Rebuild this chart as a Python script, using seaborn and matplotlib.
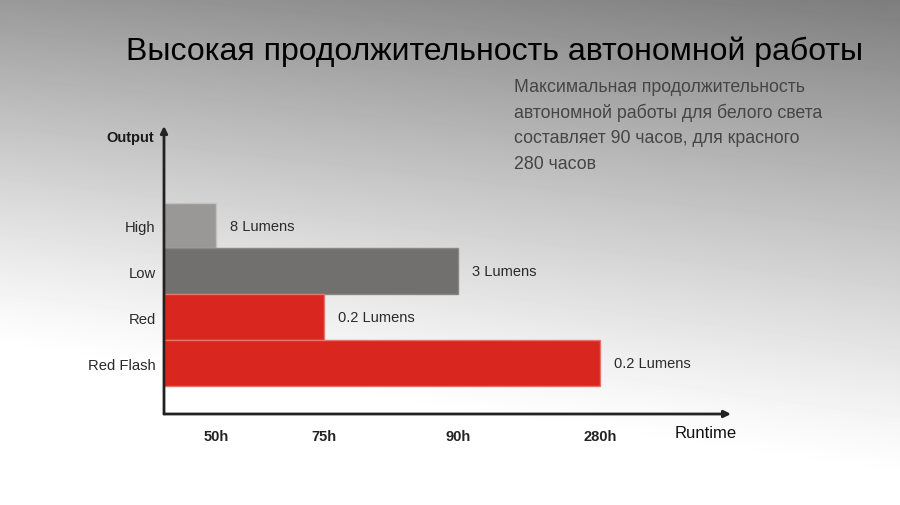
import numpy as np
import pandas as pd
import matplotlib
matplotlib.use("Agg")
import matplotlib.pyplot as plt
import seaborn as sns

# data
modes = ["High", "Low", "Red", "Red Flash"]
runtime_h = [50, 90, 75, 280]
lumens = ["8 Lumens", "3 Lumens", "0.2 Lumens", "0.2 Lumens"]
tick_hours = [50, 75, 90, 280]
tick_labels = ["50h", "75h", "90h", "280h"]
title = "Высокая продолжительность автономной работы"
desc_lines = [
    "Максимальная продолжительность",
    "автономной работы для белого света",
    "составляет 90 часов, для красного",
    "280 часов",
]

colors = {"High": "#9a9896", "Low": "#72706e", "Red": "#d9261e", "Red Flash": "#d9261e"}
edges = {"High": "#c4c2c0", "Low": "#8a8886", "Red": "#e8736c", "Red Flash": "#e8736c"}

# the runtime axis in the original is not linear: knots of the piecewise scale
scale_hours = [0, 50, 75, 90, 280, 400]
scale_pos = [0, 52, 160, 294, 436, 567]


def fwd(v):
    return np.interp(v, scale_hours, scale_pos)


def inv(p):
    return np.interp(p, scale_pos, scale_hours)


df = pd.DataFrame({"mode": modes, "hours": runtime_h})

sns.set_style("white")
plt.rcParams["font.family"] = ["Liberation Sans", "DejaVu Sans"]

W, H = 900, 506
fig = plt.figure(figsize=(9, 5.06), dpi=100)

# gradient background (grey top right, fading to white at the bottom)
bg = fig.add_axes([0, 0, 1, 1], zorder=0)
xx, yy = np.meshgrid(np.arange(W), np.arange(H))
g0 = 0.6 - 0.11 * xx / W
yw = 350 + 130 * xx / W
grad = 1 - (1 - g0) * np.clip(1 - yy / yw, 0, 1) ** 1.2
bg.imshow(grad, cmap="gray", vmin=0, vmax=1, aspect="auto", extent=(0, W, H, 0))
bg.set_axis_off()

ax = fig.add_axes([164 / W, 1 - 415 / H, (731 - 164) / W, (415 - 127) / H], zorder=1)
ax.patch.set_alpha(0)

sns.barplot(data=df, x="hours", y="mode", hue="mode", order=modes, hue_order=modes,
            palette=colors, orient="h", width=1.0, legend=False, ax=ax, errorbar=None,
            saturation=1)

ax.set_xscale("function", functions=(fwd, inv))
ax.set_xlim(0, 400)
ax.set_ylim(4.11, -2.17)

for bar, m in zip(ax.patches, modes):
    bar.set_edgecolor(edges[m])
    bar.set_linewidth(1.0)

for cont, lab in zip(ax.containers, lumens):
    ax.bar_label(cont, labels=[lab], padding=10, fontsize=10.5, color="#2a2a2a")

ax.set_xticks(tick_hours)
ax.set_xticklabels(tick_labels, fontsize=10.5, fontweight="bold", color="#222222")
ax.xaxis.set_minor_locator(matplotlib.ticker.NullLocator())
ax.tick_params(axis="x", direction="in", length=5, width=1.2, color="#777777", pad=11)
ax.tick_params(axis="y", length=0, pad=6, labelsize=10.7, labelcolor="#2a2a2a")
ax.set_xlabel("")
ax.set_ylabel("")

for s in ax.spines.values():
    s.set_visible(False)

# axis arrows
arrow = dict(arrowstyle="-|>", color="#222222", lw=2, mutation_scale=10, shrinkA=0, shrinkB=0)
ax.annotate("", xy=(1, 0), xytext=(0, 0), xycoords="axes fraction", arrowprops=arrow)
ax.annotate("", xy=(0, 1), xytext=(0, 0), xycoords="axes fraction", arrowprops=arrow)

fig.text(154 / W, 1 - 138 / H, "Output", ha="right", va="center", fontsize=10.5,
         fontweight="bold", color="#1a1a1a")
fig.text(737 / W, 1 - 434 / H, "Runtime", ha="right", va="center", fontsize=12, color="#111111")

fig.text(126 / W, 1 - 52 / H, title, ha="left", va="center", fontsize=23, color="#000000")
for i, line in enumerate(desc_lines):
    fig.text(514 / W, 1 - (87 + i * 25.7) / H, line, ha="left", va="center",
             fontsize=12.8, color="#454545")

fig.savefig("out.png", dpi=100)
